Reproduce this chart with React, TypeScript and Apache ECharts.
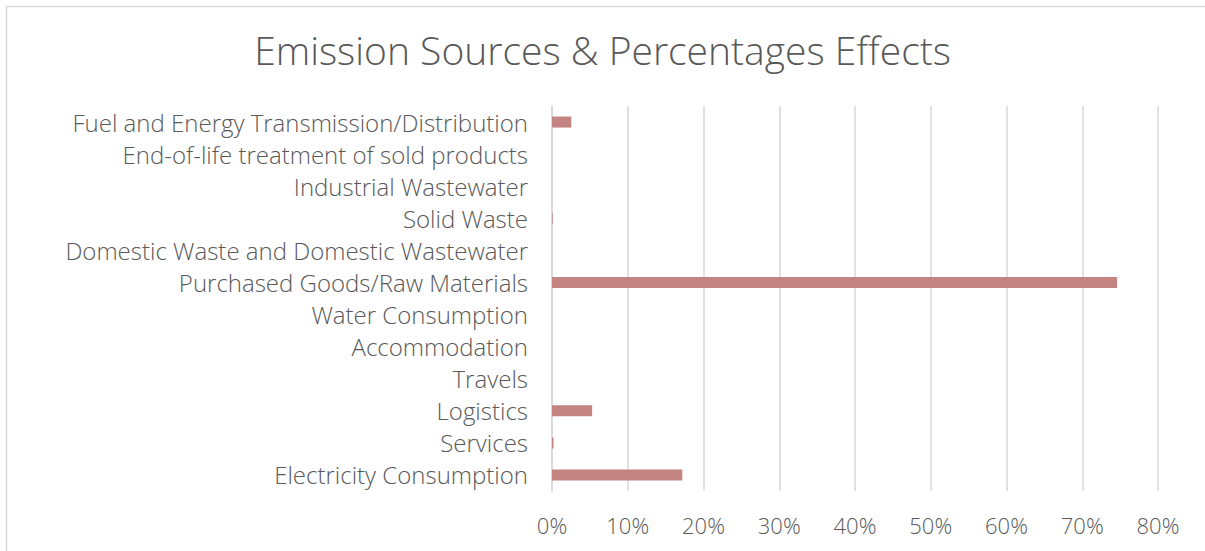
import React, { useEffect, useRef } from "react";
import * as echarts from "echarts";

const categories = [
  "Electricity Consumption",
  "Services",
  "Logistics",
  "Travels",
  "Accommodation",
  "Water Consumption",
  "Purchased Goods/Raw Materials",
  "Domestic Waste and Domestic Wastewater",
  "Solid Waste",
  "Industrial Wastewater",
  "End-of-life treatment of sold products",
  "Fuel and Energy Transmission/Distribution",
];

const shares = [0.172, 0.002, 0.053, 0, 0, 0, 0.746, 0, 0.001, 0, 0, 0.0255];

const titleText = "Emission Sources & Percentages Effects";

const FONT = "'Open Sans', 'Noto Sans', sans-serif";

export default function App() {
  const ref = useRef<HTMLDivElement>(null);
  useEffect(() => {
    const chart = echarts.init(ref.current!, null, { renderer: "svg" });
    chart.setOption({
      animation: false,
      backgroundColor: "#ffffff",
      title: {
        text: titleText,
        left: "center",
        top: 25,
        textStyle: {
          fontFamily: FONT,
          fontSize: 39,
          fontWeight: 300,
          color: "#595959",
        },
      },
      graphic: [
        {
          type: "rect",
          shape: { x: 6.5, y: 6.5, width: 1400, height: 1000 },
          style: { fill: "none", stroke: "#d9d9d9", lineWidth: 1.5 },
          silent: true,
        },
      ],
      grid: { left: 552, right: 47, top: 106, bottom: 60, containLabel: false },
      xAxis: {
        type: "value",
        min: 0,
        max: 0.8,
        interval: 0.1,
        axisLine: { show: false },
        axisTick: { show: false },
        splitLine: { show: true, lineStyle: { color: "#d9d9d9", width: 1.5 } },
        axisLabel: {
          formatter: (v: number) => Math.round(v * 100) + "%",
          fontFamily: FONT,
          fontSize: 22,
          fontWeight: 300,
          color: "#595959",
          margin: 23,
        },
      },
      yAxis: {
        type: "category",
        data: categories,
        axisLine: { show: true, lineStyle: { color: "#d9d9d9", width: 1.5 } },
        axisTick: { show: false },
        axisLabel: {
          fontFamily: FONT,
          fontSize: 24,
          fontWeight: 300,
          color: "#595959",
          margin: 24,
        },
      },
      series: [
        {
          type: "bar",
          data: shares,
          barWidth: 11,
          itemStyle: { color: "#c48482" },
        },
      ],
    });
    return () => chart.dispose();
  }, []);
  return (
    <div
      ref={ref}
      style={{ position: "fixed", left: 0, top: 0, width: 1205, height: 551 }}
    />
  );
}
